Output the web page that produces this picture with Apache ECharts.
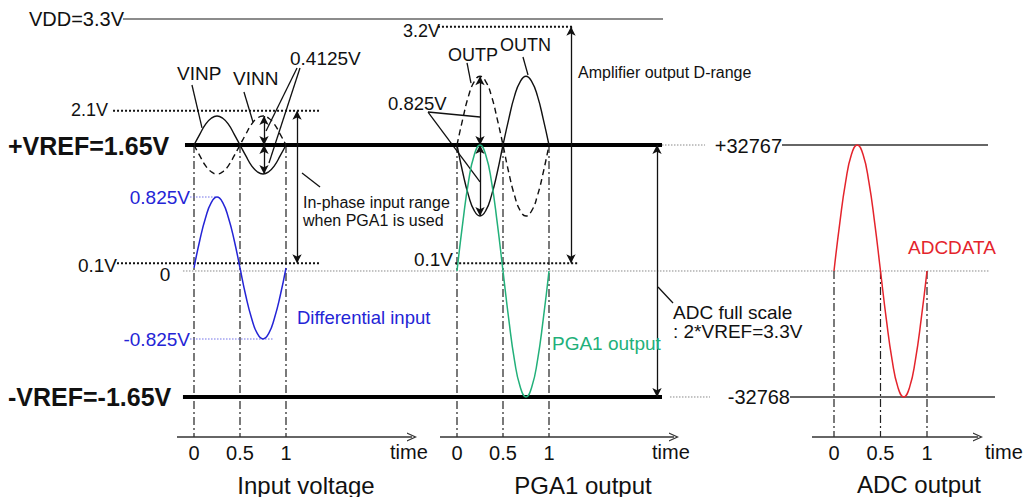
<!DOCTYPE html>
<html><head><meta charset="utf-8">
<script src="https://cdn.jsdelivr.net/npm/echarts@6/dist/echarts.min.js"></script>
<style>html,body{margin:0;padding:0;background:#fff}#c{width:1028px;height:497px}</style>
</head><body><div id="c"></div>
<script>
// ================= DATA =================
const timeTicks = [0, 0.5, 1];
const sampleTime = [0, 0.0625, 0.125, 0.1875, 0.25, 0.3125, 0.375, 0.4375, 0.5, 0.5625, 0.625, 0.6875, 0.75, 0.8125, 0.875, 0.9375, 1];
// single-ended input pins (V)
const vinp = [1.65, 1.79, 1.92, 2.00, 2.03, 2.00, 1.92, 1.79, 1.65, 1.51, 1.38, 1.30, 1.27, 1.30, 1.38, 1.51, 1.65];
const vinn = [1.65, 1.51, 1.38, 1.30, 1.27, 1.30, 1.38, 1.51, 1.65, 1.79, 1.92, 2.00, 2.03, 2.00, 1.92, 1.79, 1.65];
// differential input (V)
const diffInput = [0, 0.32, 0.58, 0.76, 0.825, 0.76, 0.58, 0.32, 0, -0.32, -0.58, -0.76, -0.825, -0.76, -0.58, -0.32, 0];
// amplifier outputs (V)
const outp = [1.65, 1.99, 2.29, 2.48, 2.55, 2.48, 2.29, 1.99, 1.65, 1.29, 0.99, 0.79, 0.72, 0.79, 0.99, 1.29, 1.65];
const outn = [1.65, 1.29, 0.99, 0.79, 0.72, 0.79, 0.99, 1.29, 1.65, 1.99, 2.29, 2.48, 2.55, 2.48, 2.29, 1.99, 1.65];
// PGA1 differential output (V)
const pga1Output = [0, 0.63, 1.17, 1.52, 1.65, 1.52, 1.17, 0.63, 0, -0.63, -1.17, -1.52, -1.65, -1.52, -1.17, -0.63, 0];
// ADC code output
const adcData = [0, 12540, 23170, 30274, 32767, 30274, 23170, 12540, 0, -12540, -23170, -30274, -32768, -30274, -23170, -12540, 0];
// reference levels
const voltLevels = [3.3, 3.2, 2.1, 1.65, 0.1, 0, -1.65];
const voltLabels = ['VDD=3.3V', '3.2V', '2.1V', '+VREF=1.65V', '0.1V', '0', '-VREF=-1.65V'];
const diffLevels = [0.825, -0.825];
const diffLabels = ['0.825V', '-0.825V'];
const codeLevels = [32767, -32768];
const codeLabels = ['+32767', '-32768'];
const panelTitles = ['Input voltage', 'PGA1 output', 'ADC output'];
const axisName = 'time';

// ================= LAYOUT / STYLE =================
const FONT = '"Liberation Sans", Arial, Helvetica, sans-serif';
const [VDD, VAMP, VINMAX, VREF, VINMIN, VZERO, VREFN] = voltLevels;
const vMin = -2.174, vMax = 3.549;
const codePerVolt = 32768 / VREF;
// each panel's grid spans the whole width; min/max place the time origin of that panel
const panels = [
  { min: -2.1087, max: 9.0652, axisFrom: -0.1848, axisTo: 2.3696 },
  { min: -4.9674, max: 6.2065, axisFrom: -0.1848, axisTo: 2.3587 },
  { min: -8.9677, max: 2.0860, axisFrom: -0.2366, axisTo: 1.5484 }
];
const chevron = 'path://M0,10 L5,0 L10,10 L8.6,10 L5,2.8 L1.4,10 Z';

const grids = panels.map(() => ({ left: 0, right: 0, top: 0, height: 437 }));
const xAxes = panels.map((p, i) => ({
  type: 'value', gridIndex: i, min: p.min, max: p.max,
  axisLine: { show: false }, axisTick: { show: false }, splitLine: { show: false },
  axisLabel: { customValues: timeTicks, fontSize: 20, color: '#111', margin: 6, fontFamily: FONT,
    formatter: v => String(v) }
}));
const yAxes = [
  { type: 'value', gridIndex: 0, min: vMin, max: vMax, show: false },
  { type: 'value', gridIndex: 0, min: -1.9637, max: 3.1141, show: false },
  { type: 'value', gridIndex: 1, min: vMin, max: vMax, show: false },
  { type: 'value', gridIndex: 2, min: vMin * codePerVolt, max: vMax * codePerVolt, show: false }
];

const series = [];
function seg(xi, yi, pts, ls, z, smooth) {
  series.push({ type: 'line', xAxisIndex: xi, yAxisIndex: yi, data: pts, symbol: 'none',
    smooth: !!smooth, clip: false, silent: true, animation: false, z: z || 2,
    lineStyle: Object.assign({ color: '#111', width: 1.3 }, ls) });
}
function wave(xi, yi, vals, ls, z) {
  seg(xi, yi, sampleTime.map((t, k) => [t, vals[k]]), ls, z || 5, true);
}
function arrows(xi, yi, list, symbols, size, ls) {
  series.push({ type: 'line', xAxisIndex: xi, yAxisIndex: yi, data: [], clip: false, silent: true,
    animation: false, z: 6,
    markLine: { silent: true, animation: false, symbol: symbols || ['arrow', 'arrow'], symbolSize: size || [7, 9],
      label: { show: false }, lineStyle: Object.assign({ color: '#111', width: 1.3, type: 'solid' }, ls),
      emphasis: { disabled: true },
      data: list.map(a => [{ coord: a[0] }, { coord: a[1] }]) } });
}
const THICK = { color: '#000', width: 4 };
const DOTS = { color: '#111', width: 2, type: [2, 2] };
const GRAYDOT = { color: '#888', width: 1, type: [1.5, 1.5] };
const DASHDOT = { color: '#222', width: 1.2, type: [8, 3, 2, 3] };
const BLUE = '#2424d6', GREEN = '#22b07a', RED = '#e4242c';

// time axes with open arrow heads
panels.forEach((p, i) => {
  const yi = [0, 2, 3][i];
  const yBottom = i === 2 ? vMin * codePerVolt : vMin;
  arrows(i, yi, [[[p.axisFrom, yBottom], [p.axisTo, yBottom]]], ['none', chevron], [9, 10],
    { color: '#333', width: 1.5 });
});

// ---- panel 1: input voltage ----
seg(0, 0, [[-0.12, VZERO], [8.652, VZERO]], GRAYDOT, 1);
seg(0, 0, [[-0.772, VDD], [5.098, VDD]], { color: '#666', width: 1.5 });
seg(0, 0, [[-0.098, VREF], [5.087, VREF]], THICK, 3);
seg(0, 0, [[-0.12, VREFN], [5.087, VREFN]], THICK, 3);
seg(0, 0, [[-0.88, VINMAX], [1.37, VINMAX]], DOTS);
seg(0, 0, [[-0.837, VINMIN], [1.37, VINMIN]], DOTS);
timeTicks.forEach(t => seg(0, 0, [[t, VREF], [t, vMin]], DASHDOT, 1));
seg(0, 1, [[-0.043, diffLevels[0]], [0.25, diffLevels[0]]], { color: '#7070e8', width: 1, type: [1.5, 1.5] });
seg(0, 1, [[-0.043, diffLevels[1]], [0.859, diffLevels[1]]], { color: '#7070e8', width: 1, type: [1.5, 1.5] });
wave(0, 0, vinp, { color: '#111', width: 1.4 });
wave(0, 0, vinn, { color: '#111', width: 1.4, type: [6, 4] });
wave(0, 1, diffInput, { color: BLUE, width: 1.5 });
seg(0, 0, [[-0.022, 2.436], [0.087, 1.873]], {});
seg(0, 0, [[0.543, 2.344], [0.641, 1.951]], {});
seg(0, 0, [[1.12, 2.658], [0.783, 1.833]], {});
seg(0, 0, [[1.152, 2.658], [0.815, 1.414]], {});
seg(0, 0, [[1.174, 1.283], [1.37, 1.10]], {});
arrows(0, 0, [
  [[1.12, VINMAX], [1.12, VINMIN]],
  [[0.761, Math.max(...vinn)], [0.761, VREF]],
  [[0.761, VREF], [0.761, Math.min(...vinn)]]
]);

// ---- panel 2: PGA1 output ----
seg(1, 2, [[-0.207, VAMP], [1.25, VAMP]], DOTS);
seg(1, 2, [[-0.02, VINMIN], [1.315, VINMIN]], DOTS);
seg(1, 2, [[2.228, VREF], [2.696, VREF]], GRAYDOT);
seg(1, 2, [[2.315, VREFN], [2.75, VREFN]], GRAYDOT);
timeTicks.forEach(t => seg(1, 2, [[t, VREF], [t, vMin]], DASHDOT, 1));
wave(1, 2, outp, { color: '#111', width: 1.4, type: [6, 4] });
wave(1, 2, outn, { color: '#111', width: 1.4 });
wave(1, 2, pga1Output, { color: GREEN, width: 1.5 });
seg(1, 2, [[0.109, 2.724], [0.152, 2.462]], {});
seg(1, 2, [[0.717, 2.803], [0.772, 2.567]], {});
seg(1, 2, [[-0.315, 2.082], [0.25, 2.017]], {});
seg(1, 2, [[-0.315, 2.082], [0.25, 1.166]], {});
seg(1, 2, [[2.185, -0.21], [2.348, -0.419]], {});
arrows(1, 2, [
  [[1.239, VAMP], [1.239, VINMIN]],
  [[2.174, VREF], [2.174, VREFN]],
  [[0.25, Math.max(...outp)], [0.25, VREF]],
  [[0.25, VREF], [0.25, Math.min(...outp)]]
]);

// ---- panel 3: ADC output ----
seg(2, 3, [[-0.559, codeLevels[0]], [1.656, codeLevels[0]]], { color: '#333', width: 1.5 });
seg(2, 3, [[-0.473, codeLevels[1]], [1.731, codeLevels[1]]], { color: '#333', width: 1.5 });
timeTicks.forEach(t => seg(2, 3, [[t, 0], [t, vMin * codePerVolt]], DASHDOT, 1));
wave(2, 3, adcData, { color: RED, width: 1.5 });

// ---- texts ----
function T(x, y, text, size, o) {
  o = o || {};
  return { type: 'text', x: x, y: y, silent: true, z: 20,
    style: { text: text, fontSize: size, fontFamily: FONT, fontWeight: o.bold ? 'bold' : 'normal',
      fill: o.color || '#111', align: o.align || 'left', verticalAlign: 'middle' } };
}
const graphics = [
  T(124, 19, voltLabels[0], 20, { align: 'right' }),
  T(440, 31, voltLabels[1], 18, { align: 'right' }),
  T(108, 110, voltLabels[2], 18, { align: 'right' }),
  T(8, 146, voltLabels[3], 25, { bold: true }),
  T(117, 265, voltLabels[4], 19, { align: 'right' }),
  T(453, 259, voltLabels[4], 19, { align: 'right' }),
  T(165, 274, voltLabels[5], 19, { align: 'center' }),
  T(8, 397, voltLabels[6], 25, { bold: true }),
  T(190, 197, diffLabels[0], 19, { align: 'right', color: BLUE }),
  T(190, 339, diffLabels[1], 19, { align: 'right', color: BLUE }),
  T(782, 146, codeLabels[0], 20, { align: 'right' }),
  T(790, 397, codeLabels[1], 20, { align: 'right' }),
  T(177, 73, 'VINP', 19),
  T(233, 78, 'VINN', 19),
  T(290, 58, '0.4125V', 19),
  T(303, 202, 'In-phase input range', 16),
  T(303, 220, 'when PGA1 is used', 16),
  T(297, 317, 'Differential input', 18.5, { color: BLUE }),
  T(448, 55, 'OUTP', 18),
  T(500, 45, 'OUTN', 18),
  T(388, 103, '0.825V', 18.5),
  T(578, 72, 'Amplifier output D-range', 16),
  T(673, 312, 'ADC full scale', 19),
  T(673, 331, ': 2*VREF=3.3V', 19),
  T(552, 343, 'PGA1 output', 19, { color: GREEN }),
  T(908, 247, 'ADCDATA', 19, { color: RED }),
  T(390, 452, axisName, 20),
  T(652, 452, axisName, 20),
  T(985, 452, axisName, 20),
  T(306, 485, panelTitles[0], 24, { align: 'center' }),
  T(583, 485, panelTitles[1], 24, { align: 'center' }),
  T(919, 484, panelTitles[2], 24, { align: 'center' })
];

const chart = echarts.init(document.getElementById('c'), null, { renderer: 'svg' });
chart.setOption({
  animation: false,
  backgroundColor: '#fff',
  grid: grids, xAxis: xAxes, yAxis: yAxes,
  series: series,
  graphic: graphics
});
</script></body></html>
